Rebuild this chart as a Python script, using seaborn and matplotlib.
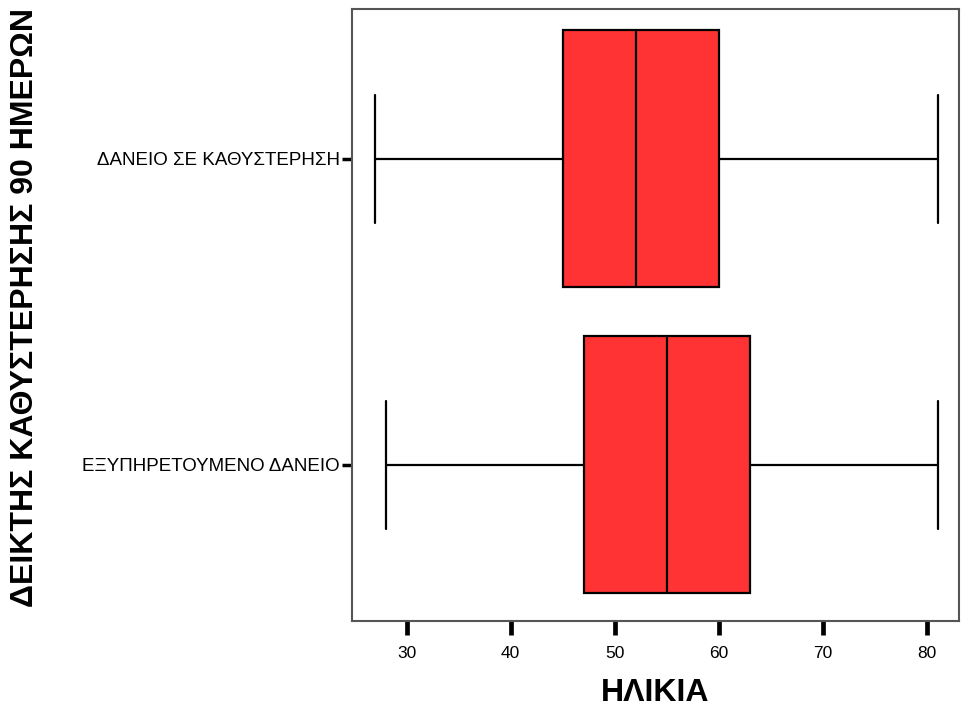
import numpy as np
import pandas as pd
import matplotlib
matplotlib.use("Agg")
import matplotlib.pyplot as plt
import seaborn as sns

# Five-number summaries (min, Q1, median, Q3, max) of age per loan status
categories = ["ΔΑΝΕΙΟ ΣΕ ΚΑΘΥΣΤΕΡΗΣΗ", "ΕΞΥΠΗΡΕΤΟΥΜΕΝΟ ΔΑΝΕΙΟ"]
delayed_age = [27, 45, 52, 60, 81]
serviced_age = [28, 47, 55, 63, 81]
x_ticks = [30, 40, 50, 60, 70, 80]

df = pd.DataFrame({
    "status": [categories[0]] * len(delayed_age) + [categories[1]] * len(serviced_age),
    "age": delayed_age + serviced_age,
})

sns.set_style("white")
plt.rcParams["font.family"] = ["Liberation Sans", "DejaVu Sans"]
plt.rcParams["text.color"] = "black"
plt.rcParams["axes.labelcolor"] = "black"
plt.rcParams["xtick.color"] = "black"
plt.rcParams["ytick.color"] = "black"

fig = plt.figure(figsize=(9.61, 7.13), dpi=100)
ax = fig.add_axes([0.3663, 0.129, 0.6312, 0.8584])

sns.boxplot(
    data=df, x="age", y="status", order=categories, orient="h",
    whis=(0, 100), width=0.84, color="#ff3333", saturation=1,
    linecolor="black", linewidth=1.6, ax=ax,
)

ax.set_xlim(24.76, 83.0)
ax.set_ylim(1.51, -0.49)
ax.set_xticks(x_ticks)
ax.set_xticklabels([str(t) for t in x_ticks], fontsize=12.5)
ax.tick_params(axis="x", direction="out", length=10, width=3.4, colors="black",
               pad=8, bottom=True)
ax.tick_params(axis="y", direction="out", length=7, width=2.5, colors="black",
               pad=2, left=True, labelsize=13.5)

for s in ax.spines.values():
    s.set_visible(True)
    s.set_color("#555555")
    s.set_linewidth(1.5)

ax.set_xlabel("ΗΛΙΚΙΑ", fontsize=23, fontweight="bold", labelpad=12, color="black")
ax.set_ylabel("")
fig.text(0.026, 0.569, "ΔΕΙΚΤΗΣ ΚΑΘΥΣΤΕΡΗΣΗΣ 90 ΗΜΕΡΩΝ", rotation=90,
         fontsize=23, fontweight="bold", ha="center", va="center", color="black")

fig.savefig("out.png", dpi=100)
